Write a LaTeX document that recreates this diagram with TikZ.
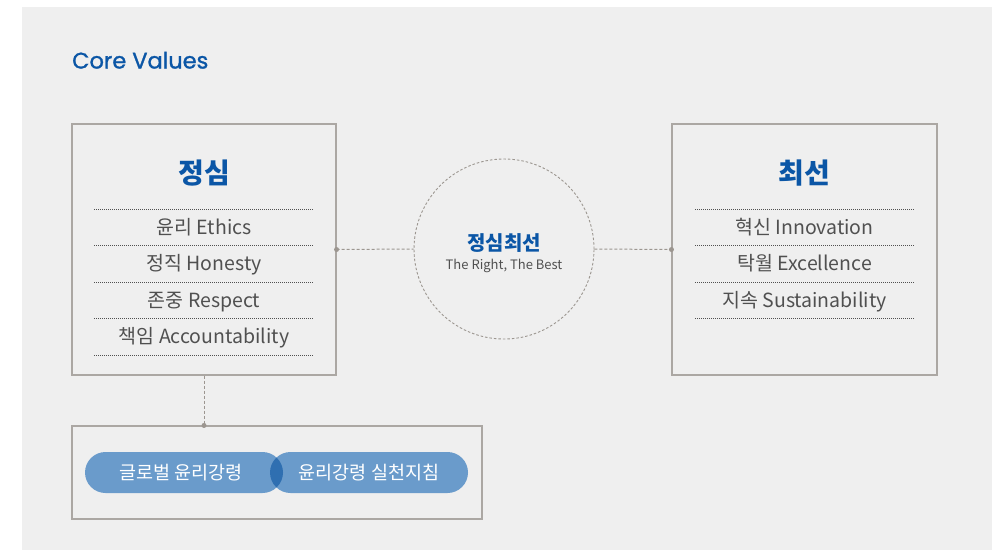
\documentclass[tikz,border=0pt]{standalone}
\usepackage{fontspec}
\setmainfont{Noto Sans CJK KR}
\newfontfamily\titlefont{Poppins}[UprightFeatures={FakeBold=1.2}]
\definecolor{bgGray}{HTML}{EFEFEF}
\definecolor{frameGray}{HTML}{ABA7A3}
\definecolor{coreBlue}{HTML}{0B56A6}
\definecolor{itemGray}{HTML}{505050}
\definecolor{pillBlue}{HTML}{6A9BCB}
\definecolor{pillDark}{HTML}{2F6FB1}
\definecolor{linkGray}{HTML}{9C9690}
\begin{document}
\begin{tikzpicture}[
    x=1pt, y=-1pt,
    % Define styles
    valuebox/.style={
        draw=frameGray,
        line width=1.1pt,
        rectangle,
        inner sep=0pt
    },
    heading/.style={
        font=\fontsize{28}{30}\selectfont\bfseries,
        text=coreBlue,
        anchor=base
    },
    item_text/.style={
        font=\fontsize{19.5}{21}\selectfont,
        text=itemGray,
        anchor=base
    },
    separator/.style={
        itemGray,
        line width=0.8pt,
        dash pattern=on 1pt off 1pt
    },
    link/.style={
        linkGray,
        line width=1pt,
        dash pattern=on 3pt off 2pt
    },
    linkdot/.style={
        circle,
        fill=linkGray,
        inner sep=0pt,
        minimum size=5pt
    },
    pill/.style={
        rounded corners=20.5pt
    },
    pill_text/.style={
        font=\fontsize{18.5}{20}\selectfont,
        text=white,
        anchor=base
    }
]

    % --- Background ---
    \fill[bgGray] (22,7) rectangle (992,550);
    \useasboundingbox (0,0) rectangle (992,550);

    % Title
    \node[font=\titlefont\fontsize{22.5}{24}\selectfont, text=coreBlue,
          anchor=base west, inner sep=0pt] (title) at (72,68.5) {Core Values};

    % --- Left Box (정심) ---
    \node[valuebox, minimum width=264pt, minimum height=251pt] (jeongsim) at (204,249.5) {};
    \node[heading] (jeongsimhead) at (204,183) {정심};
    \foreach \y in {209,245.5,282,318.5,355} {
        \draw[separator] (94,\y) -- (314,\y);
    }
    \node[item_text] (ethics) at (204,234) {윤리 Ethics};
    \node[item_text] (honesty) at (204,270.5) {정직 Honesty};
    \node[item_text] (respect) at (204,307) {존중 Respect};
    \node[item_text] (account) at (204,343.5) {책임 Accountability};

    % --- Right Box (최선) ---
    \node[valuebox, minimum width=265pt, minimum height=251pt] (choeseon) at (804.5,249.5) {};
    \node[heading] (choeseonhead) at (804.5,183) {최선};
    \foreach \y in {209,245.5,282,318.5} {
        \draw[separator] (695,\y) -- (915,\y);
    }
    \node[item_text] (innovation) at (804.5,234) {혁신 Innovation};
    \node[item_text] (excellence) at (804.5,270.5) {탁월 Excellence};
    \node[item_text] (sustain) at (804.5,307) {지속 Sustainability};

    % --- Centre Circle ---
    \node[circle, draw=linkGray, line width=0.9pt, dash pattern=on 2.5pt off 2pt,
          minimum size=180pt, inner sep=0pt] (core) at (504,249) {};
    \node[font=\fontsize{20}{22}\selectfont\bfseries, text=coreBlue, anchor=base]
        (coretext) at (504,250.5) {정심최선};
    \node[font=\fontsize{13}{15}\selectfont, text=itemGray, anchor=base]
        (coresub) at (504,269) {The Right, The Best};

    % Connections to the circle
    \draw[link] (jeongsim.east) -- (core.west);
    \draw[link] (core.east) -- (choeseon.west);
    \node[linkdot] at (jeongsim.east) {};
    \node[linkdot] at (choeseon.west) {};

    % --- Bottom Box (윤리강령) ---
    \node[valuebox, minimum width=410pt, minimum height=93pt] (charter) at (277,472.5) {};
    \draw[link] (jeongsim.south) -- (jeongsim.south |- charter.north);
    \node[linkdot] at (jeongsim.south |- charter.north) {};

    % Pills (overlap drawn darker)
    \fill[pillBlue, pill] (85,452) rectangle (283,493);
    \fill[pillBlue, pill] (270,452) rectangle (468,493);
    \begin{scope}
        \clip[pill] (85,452) rectangle (283,493);
        \fill[pillDark, pill] (270,452) rectangle (468,493);
    \end{scope}
    \node[pill_text] (global) at (181,479.5) {글로벌 윤리강령};
    \node[pill_text] (guide) at (369,479.5) {윤리강령 실천지침};

\end{tikzpicture}
\end{document}
